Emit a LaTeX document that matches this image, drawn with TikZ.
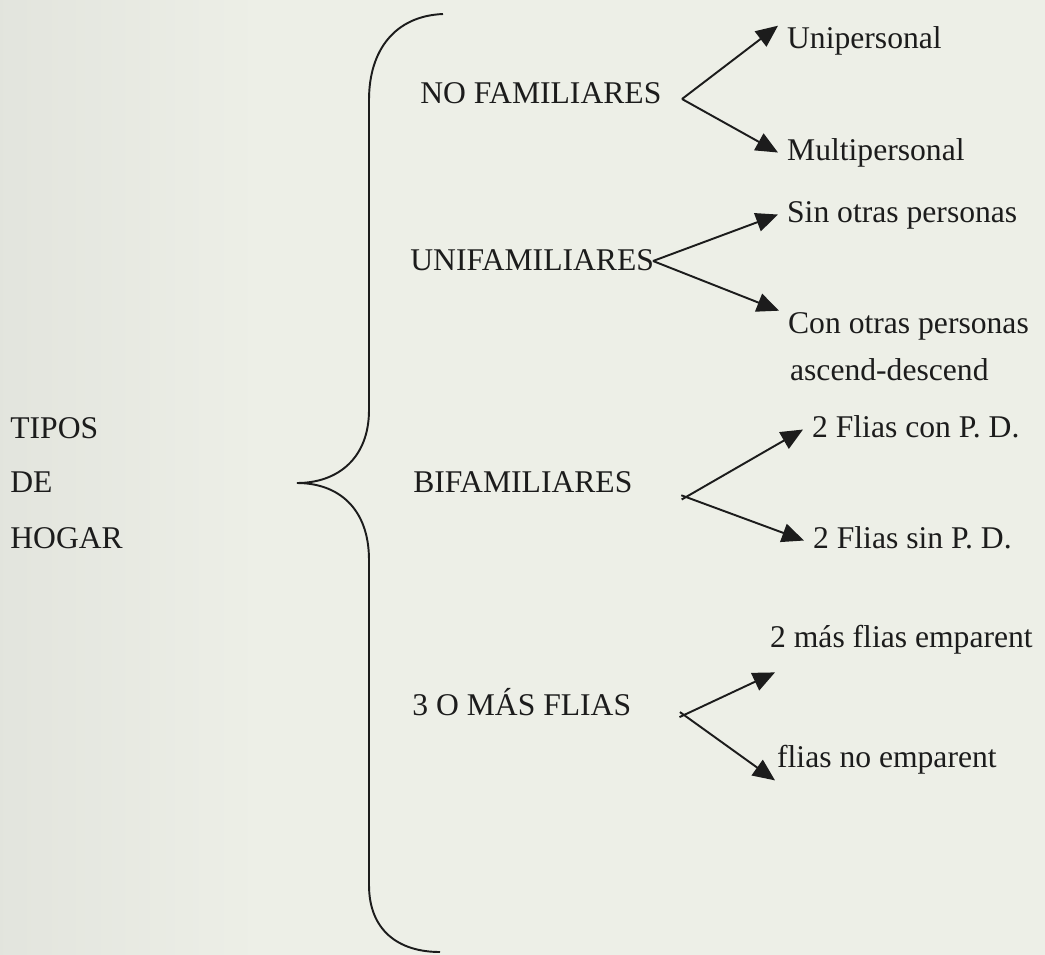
\documentclass[tikz,border=0pt]{standalone}
\usepackage{fontspec}
\setmainfont{Liberation Serif}
\usetikzlibrary{arrows.meta, positioning}
\definecolor{papel}{RGB}{237,239,231}
\definecolor{papelgris}{RGB}{226,228,221}
\definecolor{tinta}{RGB}{28,28,28}
\tikzset{
  texto/.style={anchor=base west, inner sep=0pt, text=tinta, font=\fontsize{18}{21}\selectfont, text height=12.5pt, text depth=4pt},
  hoja/.style={texto, inner xsep=5pt},
  flecha/.style={draw=tinta, line width=1.1pt, -{Triangle[length=0.44cm, width=0.38cm]}},
  llave/.style={draw=tinta, line width=1.1pt}
}

\begin{document}
\begin{tikzpicture}[x=0.02cm, y=-0.02cm]
  \useasboundingbox (0,0) rectangle (1045,954);
  % 背景
  \fill[papel] (-10,-10) rectangle (1055,964);
  \shade[left color=papelgris, right color=papel] (-10,-10) rectangle (260,964);

  % 左边标题
  \node[texto] (tipos) at (10,438) {TIPOS};
  \node[texto] (de) at (10,492) {DE};
  \node[texto] (hogar) at (10,548) {HOGAR};

  % 花括号
  \draw[llave] (443,14) .. controls (395,16) and (369,50) .. (369,100)
    -- (369,410) .. controls (369,458) and (338,483) .. (297,483)
    .. controls (338,483) and (369,508) .. (369,560)
    -- (369,885) .. controls (369,930) and (398,952) .. (440,952);

  % 类别
  \node[texto] (nofam) at (420,103) {NO FAMILIARES};
  \node[texto] (unifam) at (410,270) {UNIFAMILIARES};
  \node[texto] (bifam) at (413,492) {BIFAMILIARES};
  \node[texto] (tres) at (412,715) {3 O MÁS FLIAS};

  % 子类
  \node[hoja] (uni) at (778,48) {Unipersonal};
  \node[hoja] (multi) at (778,160) {Multipersonal};
  \node[hoja] (sin) at (778,222) {Sin otras personas};
  \node[hoja] (con) at (779,333) {Con otras personas};
  \node[hoja] (asc) at (781,380) {ascend-descend};
  \node[hoja] (dosc) at (803,437) {2 Flias con P. D.};
  \node[hoja] (doss) at (804,548) {2 Flias sin P. D.};
  \node[hoja] (mas) at (761,647) {2 más flias emparent};
  \node[hoja] (noemp) at (768,767) {flias no emparent};

  % 分叉点
  \coordinate (f1) at (682,99);
  \coordinate (f2) at (653,261);
  \coordinate (f3) at (686,497);
  \coordinate (f4) at (684,715);

  \draw[flecha] (f1) -- (uni.north west);
  \draw[flecha] (f1) -- (multi.west);
  \draw[flecha] (f2) -- (sin.west);
  \draw[flecha] (f2) -- (con.north west);
  \draw[flecha, shorten <=-0.1cm] (f3) -- (dosc.west);
  \draw[flecha, shorten <=-0.1cm] (f3) -- (doss.west);
  \draw[flecha, shorten <=-0.1cm] (f4) -- ([shift={(14,18)}]mas.south west);
  \draw[flecha, shorten <=-0.1cm] (f4) -- ([shift={(7,6)}]noemp.south west);
\end{tikzpicture}
\end{document}
